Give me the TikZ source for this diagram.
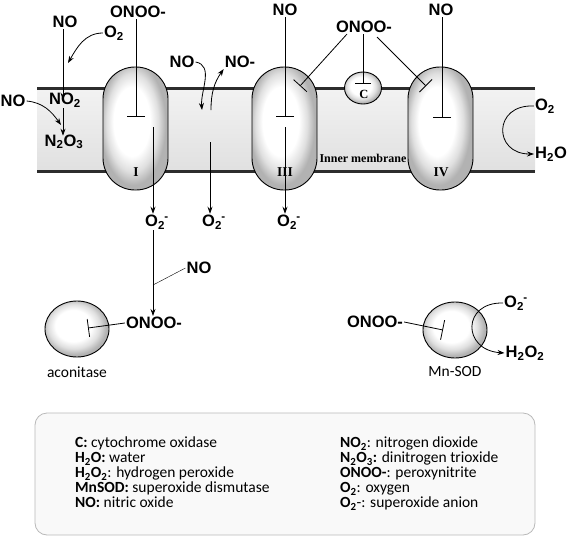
\documentclass[tikz,border=0pt]{standalone}
\usepackage{fontspec}
\setmainfont{Liberation Sans}
\newfontfamily\legf{Carlito}
\newfontfamily\serf{Liberation Serif}
\usetikzlibrary{arrows.meta,shapes.geometric}
\newcommand\sbsp[2]{\textsubscript{#1}\kern-0.5pt\textsuperscript{#2}}
\pgfdeclareradialshading{softball}{\pgfpoint{-4bp}{4bp}}{color(0bp)=(white); color(14bp)=(white); color(20bp)=(gray!25); color(25bp)=(gray!60); color(50bp)=(gray!60)}
\tikzset{
  lab/.style={font=\bfseries\fontsize{16.5}{16.5}\selectfont, inner sep=1pt},
  arr/.style={draw, line width=0.8pt, -{Stealth[length=7pt,width=5pt]}},
  inh/.style={draw, line width=0.8pt, -{Bar[width=18pt,line width=0.8pt]}},
  pill/.style={draw, line width=0.9pt, minimum width=65pt, minimum height=123pt,
    rounded corners=32pt, shading=softball},
  ball/.style={draw, line width=0.9pt, ellipse, shading=softball},
  roman/.style={font=\serf\bfseries\fontsize{13.5}{13.5}\selectfont},
  legt/.style={font=\legf\fontsize{15.5}{15}\selectfont, align=left, anchor=north west, inner sep=0pt},
  small/.style={font=\legf\fontsize{15.5}{15.5}\selectfont}
}
\begin{document}
\begin{tikzpicture}[x=1pt,y=-1pt]
\useasboundingbox (0,0) rectangle (568,536);
% membrane
\shade[top color=gray!10, bottom color=gray!24] (37,88) rectangle (535,171);
\draw[line width=3pt, gray!35!black] (37,88) -- (535,88);
\draw[line width=3pt, gray!35!black] (37,171) -- (535,171);
% complexes
\node[pill] (cI) at (135.5,128.5) {};
\node[pill] (cIII) at (284.5,128.5) {};
\node[pill] (cIV) at (440.5,128.5) {};
\node[ball, minimum width=37pt, minimum height=32pt] (cC) at (363,88) {};
\node[roman] (rI) at (136,172) {I};
\node[roman] (rIII) at (285,172) {III};
\node[roman] (rIV) at (441,172) {IV};
\node[font=\serf\bfseries\fontsize{12.5}{12.5}\selectfont] (cl) at (364,94) {C};
\node[font=\serf\bfseries\fontsize{12}{12}\selectfont, inner sep=0pt] (im) at (363,158) {Inner membrane};
% labels
\node[lab] (onooI) at (138,12) {ONOO-};
\node[lab] (noL) at (65,22) {NO};
\node[lab] (o2L) at (114,33) {O\textsubscript{2}};
\node[lab] (no2) at (65,100) {NO\textsubscript{2}};
\node[lab] (n2o3) at (64,142) {N\textsubscript{2}O\textsubscript{3}};
\node[lab] (noLL) at (13,101) {NO};
\node[lab] (noMid) at (182,62) {NO};
\node[lab] (noMinus) at (240,62) {NO-};
\node[lab] (noIII) at (285,10) {NO};
\node[lab] (onooC) at (364,27) {ONOO-};
\node[lab] (noIV) at (441,10) {NO};
\node[lab] (o2R) at (545,106) {O\textsubscript{2}};
\node[lab] (h2o) at (551,154) {H\textsubscript{2}O};
\node[lab] (o2mI) at (157,222) {O\sbsp{2}{-}};
\node[lab] (o2mMid) at (214,222) {O\sbsp{2}{-}};
\node[lab] (o2mIII) at (289,222) {O\sbsp{2}{-}};
\node[lab] (noLow) at (199,268) {NO};
\node[lab] (onooLow) at (154,323) {ONOO-};
\node[ball, minimum width=64pt, minimum height=56pt] (acon) at (77,329) {};
\node[small] (aconl) at (77,372) {aconitase};
\node[lab] (onooSOD) at (375,322) {ONOO-};
\node[ball, minimum width=64pt, minimum height=56pt] (sod) at (455,330) {};
\node[small] (sodl) at (455,372) {Mn-SOD};
\node[lab] (o2SOD) at (516,303) {O\sbsp{2}{-}};
\node[lab] (h2o2) at (525,353) {H\textsubscript{2}O\textsubscript{2}};
% coordinates
\coordinate (bI) at (136,117);
\coordinate (bIII) at (285,117);
\coordinate (bIV) at (442,118);
\coordinate (bC) at (363,84);
\coordinate (bIIIs) at (300,86);
\coordinate (bIVs) at (426,86);
\coordinate (sI) at (153,127);
\coordinate (sM) at (210,142);
\coordinate (sIII) at (285,127);
\coordinate (tM) at (202,110);
\coordinate (uM) at (211,110);
\coordinate (jL) at (153,285);
\coordinate (bAc) at (88,328);
\coordinate (bSod) at (443,330);
% connectors (top)
\draw[inh] (onooI.south -| bI) -- (bI);
\draw[inh] (noIII.south -| bIII) -- (bIII);
\draw[inh] (noIV.south -| bIV) -- (bIV);
\draw[inh, -{Bar[width=16pt,line width=0.8pt]}] (onooC.south -| bC) -- (bC);
\draw[inh] ([xshift=-17pt]onooC.south) -- (bIIIs);
\draw[inh] ([xshift=13pt,yshift=-3pt]onooC.south) -- (bIVs);
\draw[arr] (sI) -- (o2mI.north -| sI);
\draw[arr] (sM) -- (o2mMid.north -| sM);
\draw[arr] (sIII) -- (o2mIII.north -| sIII);
\draw[arr] (noMid.east) to[out=-10,in=95] (tM);
\draw[arr] (uM) to[out=90,in=-125] (noMinus.south west);
\draw[arr] (noL.south -| 63,0) -- ([yshift=-8pt]no2.north -| 63,0);
\draw[arr] (no2.south -| 63,0) -- ([yshift=-2pt]n2o3.north -| 63,0);
\draw[arr] (o2L.west) to[out=180,in=60] (68,63);
\draw[arr] (noLL.east) to[out=-5,in=125] (61,125);
\draw[arr] (o2R.west) .. controls (493,104) and (493,154) .. (h2o.west);
% lower
\draw[arr] (o2mI.south -| jL) -- (onooLow.north -| jL);
\draw (noLow.west) -- (jL);
\draw[inh] (onooLow.west) -- (bAc);
\draw[inh, -{Bar[width=20pt,line width=0.8pt]}] (onooSOD.east) -- (bSod);
\draw[arr] (o2SOD.west) .. controls (462,302) and (462,350) .. (h2o2.west);
% legend
\draw[gray!55, fill=gray!5, rounded corners=12pt, line width=0.8pt] (35,413) rectangle (535,535);
\node[legt] (legL) at (75,437) {\textbf{C:} cytochrome oxidase\\
\textbf{H\textsubscript{2}O:} water\\
\textbf{H\textsubscript{2}O\textsubscript{2}}: hydrogen peroxide\\
\textbf{MnSOD:} superoxide dismutase\\
\textbf{NO:} nitric oxide};
\node[legt] (legR) at (340,437) {\textbf{NO\textsubscript{2}}: nitrogen dioxide\\
\textbf{N\textsubscript{2}O\textsubscript{3}:} dinitrogen trioxide\\
\textbf{ONOO-}: peroxynitrite\\
\textbf{O\textsubscript{2}}: oxygen\\
\textbf{O\textsubscript{2}}-: superoxide anion};
\end{tikzpicture}
\end{document}
